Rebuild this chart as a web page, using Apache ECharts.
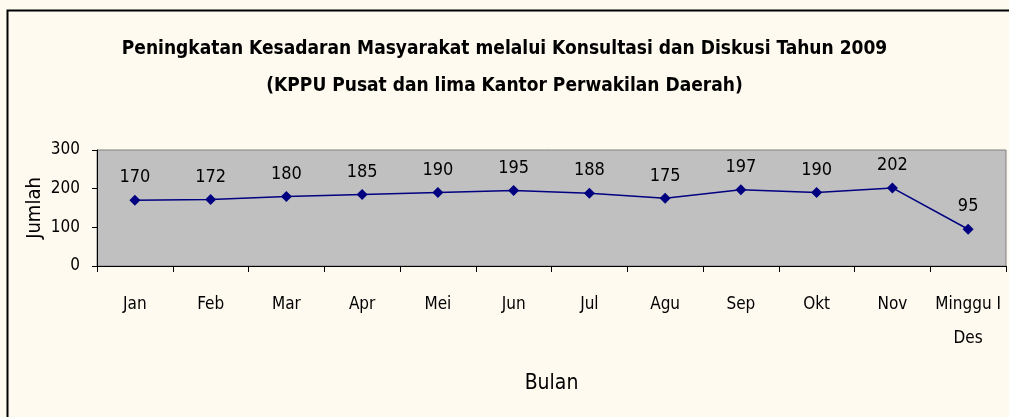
<!DOCTYPE html>
<html>
<head>
<meta charset="utf-8">
<script src="https://cdn.jsdelivr.net/npm/echarts@6/dist/echarts.min.js"></script>
<style>
  html, body { margin: 0; padding: 0; background: #fffaf0; }
  #chart { width: 1009px; height: 417px; }
</style>
</head>
<body>
<div id="chart"></div>
<script>
const months = ['Jan', 'Feb', 'Mar', 'Apr', 'Mei', 'Jun', 'Jul', 'Agu', 'Sep', 'Okt', 'Nov', 'Minggu I\nDes'];
const jumlah = [170, 172, 180, 185, 190, 195, 188, 175, 197, 190, 202, 95];
const yTicks = [0, 100, 200, 300];

const FONT = '"DejaVu Sans Condensed", "Liberation Sans Narrow", sans-serif';

const chart = echarts.init(document.getElementById('chart'));

const option = {
  backgroundColor: '#fffaf0',
  animation: false,
  title: {
    text: 'Peningkatan Kesadaran Masyarakat melalui Konsultasi dan Diskusi Tahun 2009\n(KPPU Pusat dan lima Kantor Perwakilan Daerah)',
    left: 'center',
    top: 26,
    textStyle: {
      fontFamily: FONT,
      fontWeight: 'bold',
      fontSize: 19,
      lineHeight: 37,
      color: '#000'
    }
  },
  // outer frame, right/bottom edges fall outside the picture
  graphic: [{
    type: 'rect',
    shape: { x: 7.5, y: 10.5, width: 1100, height: 500 },
    style: { fill: 'none', stroke: '#000', lineWidth: 2 },
    silent: true,
    z: -1
  }],
  grid: {
    left: 97,
    top: 150,
    right: 3,
    bottom: 151,
    show: true,
    backgroundColor: '#c0c0c0',
    borderColor: '#808080',
    borderWidth: 1
  },
  xAxis: {
    type: 'category',
    data: months,
    boundaryGap: true,
    name: 'Bulan',
    nameLocation: 'middle',
    nameGap: 107,
    nameMoveOverlap: false,
    nameTextStyle: { fontFamily: FONT, fontSize: 21, color: '#000' },
    axisLine: { lineStyle: { color: '#000', width: 1 } },
    axisTick: { show: true, length: 6, lineStyle: { color: '#000' } },
    axisLabel: {
      fontFamily: FONT,
      fontSize: 17,
      color: '#000',
      margin: 22,
      lineHeight: 34,
      interval: 0,
      verticalAlign: 'top'
    },
    splitLine: { show: false }
  },
  yAxis: {
    type: 'value',
    min: 0,
    max: 300,
    interval: 100,
    name: 'Jumlah',
    nameLocation: 'middle',
    nameGap: 52,
    nameRotate: 90,
    nameMoveOverlap: false,
    nameTextStyle: { fontFamily: FONT, fontSize: 20, color: '#000' },
    axisLine: { show: true, lineStyle: { color: '#000', width: 1 } },
    axisTick: { show: true, length: 5, lineStyle: { color: '#000' } },
    axisLabel: {
      fontFamily: FONT,
      fontSize: 17,
      color: '#000',
      margin: 17,
      customValues: yTicks
    },
    splitLine: { show: false }
  },
  series: [{
    name: 'Jumlah',
    type: 'line',
    data: jumlah,
    symbol: 'diamond',
    symbolSize: 11,
    lineStyle: { color: '#000080', width: 1.5 },
    itemStyle: { color: '#000080' },
    label: {
      show: true,
      position: 'top',
      distance: 8,
      fontFamily: FONT,
      fontSize: 18,
      color: '#000'
    }
  }]
};

chart.setOption(option);
</script>
</body>
</html>
